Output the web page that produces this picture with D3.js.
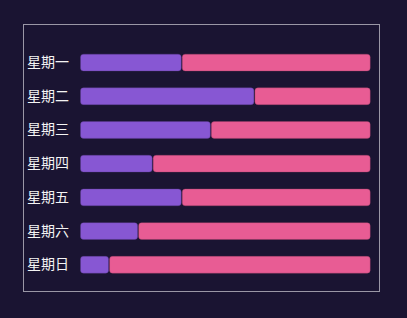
<!DOCTYPE html>
<html><head><meta charset="utf-8">
<script src="https://cdn.jsdelivr.net/npm/d3@7/dist/d3.min.js"></script>
<style>html,body{margin:0;padding:0;background:#1a1432;}svg{display:block;}</style>
</head><body>
<script>
const categories = ["星期一","星期二","星期三","星期四","星期五","星期六","星期日"];
const seriesA = [35, 60, 45, 25, 35, 20, 10];
const seriesB = [65, 40, 55, 75, 65, 80, 90];
const colors = ["#8757d3", "#e85c94"];

const W = 407, H = 318;
const svg = d3.select("body").append("svg").attr("width", W).attr("height", H);
svg.append("rect").attr("width", W).attr("height", H).attr("fill", "#1a1432");
svg.append("rect").attr("x", 23.5).attr("y", 24.5).attr("width", 356).attr("height", 267)
  .attr("fill", "none").attr("stroke", "#9a97a6").attr("stroke-width", 1);

const x = d3.scaleLinear().domain([0, 100]).range([80, 370.7]);
const y = d3.scaleBand().domain(categories).range([45.7, 281.6]).paddingInner(0.5).paddingOuter(0.25);

const data = categories.map((c, i) => ({c, a: seriesA[i], b: seriesB[i]}));
const stack = d3.stack().keys(["a", "b"])(data);

stack.forEach((layer, k) => {
  svg.append("g").selectAll("rect").data(layer).enter().append("rect")
    .attr("x", d => x(d[0]) + 0.5)
    .attr("y", d => y(d.data.c))
    .attr("width", d => Math.max(0, x(d[1]) - x(d[0]) - 1))
    .attr("height", y.bandwidth())
    .attr("rx", 3).attr("ry", 3)
    .attr("fill", colors[k])
    .attr("stroke", d3.color(colors[k]).darker(1.2))
    .attr("stroke-opacity", 0.35)
    .attr("stroke-width", 1);
});

const yAxis = d3.axisLeft(y).tickSize(0).tickPadding(11);
const g = svg.append("g").attr("transform", "translate(80,0)").call(yAxis);
g.select(".domain").remove();
g.selectAll("text").attr("fill", "#f4f4f4")
  .style("font-family", "'Noto Sans CJK SC', sans-serif").style("font-size", "14px");
</script>
</body></html>
